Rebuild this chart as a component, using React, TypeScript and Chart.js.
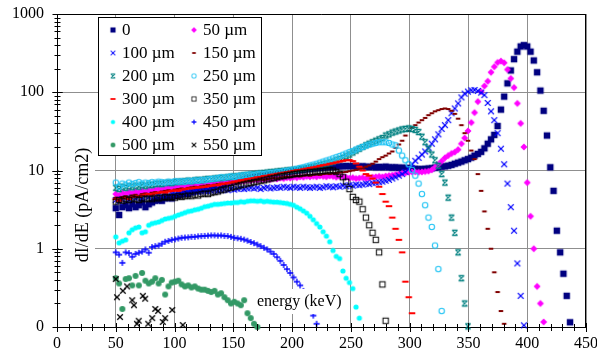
import React, { useEffect, useRef } from 'react';
import { Chart, registerables } from 'chart.js';
Chart.register(...registerables);

// Energy bins (keV) shared by the measured series
const ENERGY = [
  50, 52.8, 55.6, 58.4, 61.2, 64, 66.8, 69.6, 72.4, 75.2,
  78, 80.8, 83.6, 86.4, 89.2, 92, 94.8, 97.6, 100.4, 103.2,
  106, 108.8, 111.6, 114.4, 117.2, 120, 122.8, 125.6, 128.4, 131.2,
  134, 136.8, 139.6, 142.4, 145.2, 148, 150.8, 153.6, 156.4, 159.2,
  162, 164.8, 167.6, 170.4, 173.2, 176, 178.8, 181.6, 184.4, 187.2,
  190, 192.8, 195.6, 198.4, 201.2, 204, 206.8, 209.6, 212.4, 215.2,
  218, 220.8, 223.6, 226.4, 229.2, 232, 234.8, 237.6, 240.4, 243.2,
  246, 248.8, 251.6, 254.4, 257.2, 260, 262.8, 265.6, 268.4, 271.2,
  274, 276.8, 279.6, 282.4, 285.2, 288, 290.8, 293.6, 296.4, 299.2,
  302, 304.8, 307.6, 310.4, 313.2, 316, 318.8, 321.6, 324.4, 327.2,
  330, 332.8, 335.6, 338.4, 341.2, 344, 346.8, 349.6, 352.4, 355.2,
  358, 360.8, 363.6, 366.4, 369.2, 372, 374.8, 377.6, 380.4, 383.2,
  386, 388.8, 391.6, 394.4, 397.2, 400, 402.8, 405.6, 408.4, 411.2,
  414, 416.8, 419.6, 422.4, 425.2, 428, 430.8, 433.6, 436.4,
];

const S0 = [
  3.3, 2.7, 3.4, 3.6, 3.3, 3.7, 3.4, 3.6, 3.9, 3.4,
  3.7, 3.9, 4.1, 4.2, 4.1, 4.4, 4.5, 4.4, 4.7, 4.8,
  4.9, 5.1, 5.0, 5.3, 5.5, 5.6, 5.7, 5.8, 6.0, 6.1,
  6.2, 6.4, 6.5, 6.7, 6.9, 7.0, 7.2, 7.3, 7.5, 7.7,
  7.9, 8.0, 8.2, 8.3, 8.5, 8.6, 8.8, 8.9, 9.0, 9.2,
  9.3, 9.5, 9.6, 9.7, 9.9, 10.0, 10.1, 10.2, 10.4, 10.5,
  10.6, 10.7, 10.8, 10.9, 11.0, 11.1, 11.2, 11.2, 11.3, 11.3,
  11.4, 11.3, 11.4, 11.3, 11.2, 11.3, 11.2, 11.1, 11.2, 11.0,
  11.1, 11.0, 11.2, 11.0, 10.9, 11.0, 10.8, 10.9, 10.7, 10.8,
  10.6, 10.5, 10.4, 10.4, 10.5, 10.6, 10.7, 10.9, 11.0, 11.2,
  11.3, 11.5, 11.8, 12.2, 12.6, 13.0, 13.5, 14.0, 14.6, 15.5,
  16.3, 17.3, 19.2, 22, 25, 28.5, 37, 60, 88, 130,
  190, 265, 330, 385, 400, 385, 330, 255, 180, 105,
  58, 28, 11, 5.5, 1.7, 0.9, 0.48, 0.25, 0.115,
];

const S50 = [
  5.0, 4.8, 5.2, 5.0, 5.3, 5.1, 5.4, 5.2, 5.5, 5.3,
  5.6, 5.5, 5.7, 5.8, 5.7, 5.9, 6.0, 5.9, 6.1, 6.2,
  6.1, 6.3, 6.4, 6.3, 6.5, 6.4, 6.6, 6.7, 6.6, 6.8,
  6.9, 6.8, 7.0, 7.1, 7.0, 7.2, 7.1, 7.3, 7.4, 7.3,
  7.5, 7.4, 7.6, 7.5, 7.7, 7.6, 7.8, 7.7, 7.9, 7.8,
  8.0, 7.9, 8.1, 8.0, 8.2, 8.1, 8.3, 8.2, 8.4, 8.3,
  8.4, 8.3, 8.5, 8.4, 8.3, 8.5, 8.4, 8.2, 8.4, 8.3,
  8.2, 8.0, 8.1, 7.9, 8.0, 8.1, 7.9, 8.0, 8.2, 8.3,
  8.4, 8.3, 8.5, 8.6, 8.7, 8.9, 9.0, 9.2, 9.3, 9.5,
  9.6, 9.6, 9.5, 9.6, 9.7, 9.8, 10.2, 11.0, 12.0, 13.2,
  14.5, 15.5, 16.5, 17.2, 18.5, 22, 26, 32, 41, 55,
  76, 102, 120, 138, 180, 212, 240, 250, 238, 195,
  150, 115, 72, 40, 20, 7, 2.6, 1.0, 0.33, 0.2,
  0.116,
];

const S100 = [
  4.2, 4.0, 4.3, 4.4, 4.2, 4.5, 4.4, 4.6, 4.5, 4.7,
  4.6, 4.8, 4.7, 4.9, 4.8, 5.0, 4.9, 5.1, 5.0, 5.1,
  5.2, 5.1, 5.3, 5.2, 5.4, 5.3, 5.4, 5.5, 5.4, 5.5,
  5.6, 5.5, 5.6, 5.7, 5.6, 5.8, 5.7, 5.8, 5.9, 5.8,
  5.9, 6.0, 5.9, 6.0, 5.8, 6.0, 6.1, 5.9, 6.0, 6.1,
  6.0, 6.2, 6.1, 6.0, 6.2, 6.1, 6.0, 6.2, 6.1, 6.0,
  6.1, 6.2, 6.0, 6.1, 6.3, 6.2, 6.1, 6.3, 6.2, 6.4,
  6.3, 6.5, 6.4, 6.6, 6.5, 6.6, 6.8, 6.7, 6.9, 7.0,
  7.1, 7.2, 7.4, 7.6, 7.9, 8.2, 8.6, 9.0, 9.6, 10.5,
  12.0, 13.3, 14.5, 16.0, 17.5, 19.5, 22, 25, 29, 34,
  38, 44, 54, 62, 72, 86, 96, 102, 106, 107,
  104, 99, 92, 73, 57, 44, 30, 19, 12, 6.8,
  3.4, 1.7, 0.65, 0.25, 0.105,
];

const S150 = [
  4.5, 4.3, 4.6, 4.7, 4.5, 4.8, 4.9, 4.7, 5.0, 5.1,
  5.0, 5.2, 5.3, 5.2, 5.4, 5.5, 5.6, 5.5, 5.7, 5.8,
  5.9, 5.8, 6.0, 6.1, 6.2, 6.1, 6.3, 6.4, 6.5, 6.4,
  6.6, 6.7, 6.8, 6.7, 6.9, 7.0, 7.1, 7.0, 7.2, 7.3,
  7.4, 7.3, 7.5, 7.6, 7.7, 7.6, 7.8, 7.9, 8.0, 7.9,
  8.1, 8.2, 8.3, 8.2, 8.4, 8.5, 8.4, 8.6, 8.7, 8.6,
  8.8, 8.9, 8.8, 9.0, 9.1, 9.0, 9.2, 9.3, 9.4, 9.5,
  9.6, 9.8, 10.0, 10.2, 10.5, 10.8, 11.2, 11.6, 12.2, 13.0,
  14.0, 14.8, 15.5, 16.5, 17.5, 19.5, 21.5, 24, 28, 32,
  35, 38, 41, 44, 47, 51, 54, 57, 59, 61,
  62, 61, 58, 53, 46, 38, 30, 24, 18, 14,
  9, 5.5, 3.0, 1.8, 1.0, 0.5, 0.28, 0.16, 0.11,
];

const S200 = [
  6.0, 5.8, 6.2, 6.0, 6.3, 6.1, 6.4, 6.2, 6.5, 6.3,
  6.6, 6.5, 6.7, 6.8, 6.7, 6.9, 7.0, 6.9, 7.1, 7.2,
  7.2, 7.3, 7.4, 7.3, 7.5, 7.6, 7.5, 7.7, 7.8, 7.8,
  7.9, 8.0, 8.0, 8.1, 8.2, 8.3, 8.4, 8.4, 8.6, 8.7,
  8.8, 8.9, 9.0, 9.1, 9.2, 9.3, 9.4, 9.5, 9.6, 9.7,
  9.8, 9.9, 10.0, 10.1, 10.2, 10.3, 10.5, 10.6, 10.8, 11.0,
  11.2, 11.4, 11.7, 12.0, 12.3, 12.7, 13.0, 13.5, 14.0, 14.5,
  15.2, 16.0, 17.0, 18.0, 19.0, 20.0, 21.0, 22.0, 23.0, 24.0,
  25, 26, 28, 29, 30.5, 31.5, 32.5, 33.5, 34, 34.5,
  34, 33, 31, 27, 23, 19, 16, 13.5, 11.5, 9,
  7, 4.5, 2.5, 1.6, 0.9, 0.42, 0.2, 0.102,
];

const S250 = [
  7.0, 6.2, 6.8, 6.6, 7.0, 6.7, 6.9, 7.1, 6.8, 7.0,
  6.9, 7.1, 7.0, 7.2, 7.1, 7.0, 7.2, 7.1, 7.3, 7.2,
  7.3, 7.2, 7.4, 7.3, 7.5, 7.4, 7.6, 7.5, 7.7, 7.8,
  7.9, 8.0, 8.2, 8.1, 8.3, 8.4, 8.3, 8.5, 8.6, 8.7,
  8.8, 8.9, 8.8, 9.0, 9.1, 9.0, 9.2, 9.3, 9.4, 9.5,
  9.6, 9.8, 9.9, 10.1, 10.3, 10.5, 10.8, 11.0, 11.3, 11.6,
  11.9, 12.2, 12.6, 13.0, 13.4, 13.8, 14.3, 14.8, 15.3, 15.9,
  16.5, 17.2, 17.8, 18.6, 19.3, 20.0, 20.8, 21.4, 22.0, 22.5,
  23.0, 23.0, 23.0, 22.5, 21.5, 21.0, 18.0, 15.5, 13.5, 12.0,
  10.2, 8.6, 6.8, 5.0, 3.6, 2.5, 1.9, 1.1, 0.55, 0.16,
];

const S300 = [
  4.3, 4.1, 4.4, 4.5, 4.3, 4.6, 4.7, 4.6, 4.8, 4.9,
  5.0, 4.9, 5.1, 5.2, 5.3, 5.2, 5.4, 5.5, 5.6, 5.5,
  5.7, 5.8, 5.9, 5.9, 6.0, 6.1, 6.1, 6.2, 6.3, 6.4,
  6.5, 6.5, 6.7, 6.8, 6.9, 7.0, 7.2, 7.3, 7.5, 7.6,
  7.8, 7.9, 8.0, 8.2, 8.3, 8.5, 8.6, 8.8, 8.9, 9.1,
  9.2, 9.4, 9.5, 9.7, 9.9, 10.1, 10.2, 10.4, 10.6, 10.8,
  11.0, 11.2, 11.5, 11.7, 11.9, 12.2, 12.4, 12.7, 13.0, 13.3,
  13.5, 13.6, 13.2, 12.3, 11.2, 10.0, 9.0, 8.6, 7.9, 7.0,
  6.2, 5.0, 4.0, 3.5, 2.5, 1.8, 1.3, 0.9, 0.38, 0.24,
  0.15,
];

const S350 = [
  4.0, 4.2, 4.1, 4.3, 4.2, 4.4, 4.3, 4.2, 4.4, 4.3,
  4.4, 4.3, 4.5, 4.4, 4.5, 4.6, 4.5, 4.6, 4.5, 4.7,
  4.6, 4.7, 4.8, 4.7, 4.9, 4.8, 5.0, 5.1, 5.0, 5.2,
  5.3, 5.4, 5.6, 5.7, 5.9, 6.0, 6.2, 6.3, 6.5, 6.6,
  6.8, 6.9, 7.1, 7.2, 7.4, 7.5, 7.7, 7.9, 8.0, 8.2,
  8.4, 8.5, 8.7, 8.8, 9.0, 9.1, 9.2, 9.3, 9.4, 9.5,
  9.6, 9.7, 9.8, 9.9, 10.0, 10.1, 10.0, 9.6, 9.0, 8.2,
  7.2, 5.8, 4.6, 4.2, 4.0, 3.2, 2.5, 2.0, 1.6, 1.3,
  0.9, 0.35, 0.12,
];

const S400 = [
  1.42, 1.19, 1.25, 1.3, 1.6, 1.75, 1.85, 1.9, 1.6, 1.65,
  2.0, 2.1, 2.15, 2.2, 2.3, 2.4, 2.45, 2.5, 2.6, 2.7,
  2.8, 2.9, 3.0, 3.05, 3.15, 3.2, 3.3, 3.45, 3.5, 3.6,
  3.7, 3.7, 3.75, 3.8, 3.85, 3.85, 3.9, 3.9, 4.0, 3.95,
  4.05, 4.1, 4.1, 4.05, 4.1, 4.0, 4.05, 4.0, 3.95, 3.95,
  3.9, 3.85, 3.8, 3.7, 3.6, 3.4, 3.25, 3.05, 2.85, 2.6,
  2.35, 2.1, 1.9, 1.65, 1.45, 1.23, 0.95, 0.8, 0.75, 0.52,
  0.42, 0.37, 0.31, 0.18, 0.13,
];

const S450 = [
  0.9, 0.84, 0.66, 0.9, 0.88, 0.79, 0.86, 0.89, 0.92, 0.98,
  0.89, 1.05, 1.08, 1.1, 1.16, 1.23, 1.26, 1.3, 1.32, 1.35,
  1.38, 1.39, 1.4, 1.42, 1.42, 1.44, 1.45, 1.46, 1.47, 1.48,
  1.48, 1.47, 1.48, 1.46, 1.45, 1.42, 1.38, 1.36, 1.34, 1.31,
  1.27, 1.22, 1.18, 1.13, 1.08, 1.03, 0.98, 0.92, 0.86, 0.78,
  0.7, 0.62, 0.55, 0.49, 0.43, 0.38, 0.34, 0.29, 0.24, 0.19,
  0.14, 0.11,
];

const S500 = [
  0.42, 0.36, 0.17, 0.41, 0.42, 0.34, 0.45, 0.34, 0.49, 0.39,
  0.36, 0.38, 0.42, 0.36, 0.40, 0.26, 0.33, 0.37, 0.38, 0.39,
  0.35, 0.33, 0.34, 0.32, 0.33, 0.31, 0.30, 0.30, 0.29, 0.28,
  0.29, 0.26, 0.27, 0.24, 0.22, 0.20, 0.21, 0.20, 0.19, 0.22,
  0.15, 0.13, 0.11, 0.10,
];

// 550 µm: sparse points with their own energies
const E550 = [50, 51, 53.6, 56, 59.6, 64, 65.5, 68, 69.5, 73, 75, 77.6, 81, 83.6, 86, 90, 92, 98, 107];
const S550 = [0.41, 0.24, 0.134, 0.29, 0.33, 0.22, 0.19, 0.11, 0.12, 0.25, 0.23, 0.11, 0.13, 0.17, 0.16, 0.116, 0.13, 0.165, 0.106];

const LABELS = ['0', '50 µm', '100 µm', '150 µm', '200 µm', '250 µm', '300 µm', '350 µm', '400 µm', '450 µm', '500 µm', '550 µm'];
const VALUES = [S0, S50, S100, S150, S200, S250, S300, S350, S400, S450, S500, S550];

const X_TICKS = [0, 50, 100, 150, 200, 250, 300, 350, 400, 450];
const Y_TICKS = [0.1, 1, 10, 100, 1000];

type Kind = 'square' | 'diamond' | 'x' | 'dash' | 'hourglass' | 'ocircle' | 'osquare' | 'circle' | 'plus';
interface Style { kind: Kind; color: string; size: number; }

const STYLES: Style[] = [
  { kind: 'square', color: '#000080', size: 6.5 },
  { kind: 'diamond', color: '#FF00FF', size: 3.5 },
  { kind: 'x', color: '#0000FF', size: 2.9 },
  { kind: 'dash', color: '#800000', size: 4.5 },
  { kind: 'hourglass', color: '#008080', size: 2.7 },
  { kind: 'ocircle', color: '#22C4F4', size: 2.7 },
  { kind: 'dash', color: '#FF0000', size: 6.5 },
  { kind: 'osquare', color: '#000000', size: 2.7 },
  { kind: 'circle', color: '#00FFFF', size: 2.6 },
  { kind: 'plus', color: '#0000FF', size: 3.1 },
  { kind: 'circle', color: '#339966', size: 3.0 },
  { kind: 'x', color: '#000000', size: 2.8 },
];

const FONT = '"Liberation Serif", "Times New Roman", serif';

function makeMarker(st: Style): HTMLCanvasElement {
  const c = document.createElement('canvas');
  c.width = 10; c.height = 10;
  const g = c.getContext('2d')!;
  const m = 5; const s = st.size;
  g.fillStyle = st.color; g.strokeStyle = st.color;
  switch (st.kind) {
    case 'square': g.fillRect(m - s / 2, m - s / 2, s, s); break;
    case 'diamond':
      g.beginPath(); g.moveTo(m, m - s); g.lineTo(m + s, m); g.lineTo(m, m + s); g.lineTo(m - s, m); g.closePath(); g.fill(); break;
    case 'x':
      g.lineWidth = 1.3; g.beginPath();
      g.moveTo(m - s, m - s); g.lineTo(m + s, m + s); g.moveTo(m + s, m - s); g.lineTo(m - s, m + s); g.stroke(); break;
    case 'dash': g.fillRect(m - s / 2, m - 1, s, 2); break;
    case 'hourglass':
      g.lineWidth = 1.2; g.beginPath();
      g.moveTo(m - s, m - s); g.lineTo(m + s, m + s); g.moveTo(m + s, m - s); g.lineTo(m - s, m + s);
      g.moveTo(m - s, m - s); g.lineTo(m + s, m - s); g.moveTo(m - s, m + s); g.lineTo(m + s, m + s); g.stroke(); break;
    case 'ocircle':
      g.lineWidth = 1.1; g.beginPath(); g.arc(m, m, s, 0, Math.PI * 2); g.stroke(); break;
    case 'osquare':
      g.lineWidth = 1; g.strokeRect(m - s, m - s, 2 * s, 2 * s); break;
    case 'circle':
      g.beginPath(); g.arc(m, m, s, 0, Math.PI * 2); g.fill(); break;
    case 'plus':
      g.lineWidth = 1.3; g.beginPath();
      g.moveTo(m - s, m); g.lineTo(m + s, m); g.moveTo(m, m - s); g.lineTo(m, m + s); g.stroke(); break;
  }
  return c;
}

function makeOverlay(markers: HTMLCanvasElement[]) {
  return {
    id: 'overlay',
    afterDatasetsDraw(chart: any) {
      const { ctx, chartArea: a, scales } = chart;
      const xs = scales.x, ys = scales.y;
      ctx.save();
      // white box behind the y title
      ctx.fillStyle = '#fff';
      ctx.fillRect(a.left + 2, 142, 36, 126);
      // white box behind the x title
      ctx.fillRect(253, 289, 94, 25);
      // frame top/right
      ctx.strokeStyle = '#000'; ctx.lineWidth = 1;
      ctx.beginPath();
      ctx.moveTo(a.left, Math.round(a.top) + 0.5); ctx.lineTo(a.right, Math.round(a.top) + 0.5);
      ctx.moveTo(Math.round(a.right) - 0.5, a.top); ctx.lineTo(Math.round(a.right) - 0.5, a.bottom);
      ctx.stroke();
      // axis ticks (crossing)
      ctx.beginPath();
      const yb = Math.round(a.bottom) + 0.5;
      for (let v = 0; v <= 450; v += 10) {
        const px = Math.round(xs.getPixelForValue(v)) + 0.5;
        const len = v % 50 === 0 ? 4.5 : 3.5;
        ctx.moveTo(px, yb - len); ctx.lineTo(px, yb + len);
      }
      const xl = Math.round(a.left) + 0.5;
      for (let d = 0.1; d < 1000; d *= 10) {
        for (let k = 1; k <= 10; k++) {
          const v = d * k;
          if (v > 1000.0001) continue;
          const py = Math.round(ys.getPixelForValue(v)) + 0.5;
          const len = k === 1 || k === 10 ? 5 : 3;
          ctx.moveTo(xl - len, py); ctx.lineTo(xl + len, py);
        }
      }
      ctx.stroke();
      // titles
      ctx.fillStyle = '#000';
      ctx.font = `18px ${FONT}`;
      ctx.save();
      ctx.translate(83, 205);
      ctx.rotate(-Math.PI / 2);
      ctx.textAlign = 'center'; ctx.textBaseline = 'middle';
      ctx.fillText('dI/dE (pA/cm2)', 0, 0);
      ctx.restore();
      ctx.font = `16px ${FONT}`;
      ctx.textAlign = 'left'; ctx.textBaseline = 'middle';
      ctx.fillText('energy (keV)', 257, 302);
      // legend
      ctx.fillStyle = '#fff';
      ctx.fillRect(98, 17, 163, 138);
      ctx.strokeStyle = '#000';
      ctx.strokeRect(98.5, 17.5, 163, 138);
      ctx.font = `17px ${FONT}`;
      ctx.fillStyle = '#000';
      LABELS.forEach((lab, i) => {
        const col = i % 2, row = Math.floor(i / 2);
        const cy = 30 + row * 23;
        const mx = col === 0 ? 113 : 194;
        const tx = col === 0 ? 122 : 203;
        const mk = markers[i];
        ctx.save();
        ctx.translate(mx, cy);
        ctx.scale(0.8, 0.8);
        ctx.drawImage(mk, -5, -5);
        ctx.restore();
        ctx.fillText(lab, tx, cy + 1);
      });
      ctx.restore();
    },
  };
}

export default function App() {
  const ref = useRef<HTMLCanvasElement>(null);
  useEffect(() => {
    document.body.style.margin = '0';
    const markers = STYLES.map(makeMarker);
    const datasets = VALUES.map((vals, i) => ({
      label: LABELS[i],
      data: vals.map((v, j) => ({ x: i === 11 ? E550[j] : ENERGY[j], y: v })),
      pointStyle: markers[i],
      pointRadius: 4,
      pointHoverRadius: 4,
      showLine: false,
      order: -i,
      clip: false as any,
    }));
    const chart = new Chart(ref.current!, {
      type: 'scatter',
      data: { datasets },
      options: {
        animation: false,
        responsive: false,
        events: [],
        layout: { padding: { left: 0, right: 11, top: 14, bottom: 0 } },
        plugins: { legend: { display: false }, tooltip: { enabled: false } },
        scales: {
          x: {
            type: 'linear', min: 0, max: 450,
            afterBuildTicks: (s: any) => { s.ticks = X_TICKS.map((v) => ({ value: v })); },
            ticks: { font: { family: FONT, size: 16 }, color: '#000', padding: 7, maxRotation: 0, autoSkip: false },
            grid: { color: '#8f8f8f', lineWidth: 1, drawTicks: false },
            border: { color: '#000', width: 1 },
            afterFit: (s: any) => { s.height = 36; s.paddingLeft = 0; s.paddingRight = 0; },
          },
          y: {
            type: 'logarithmic', min: 0.1, max: 1000,
            afterBuildTicks: (s: any) => { s.ticks = Y_TICKS.map((v) => ({ value: v })); },
            ticks: {
              font: { family: FONT, size: 16 }, color: '#000', padding: 13, autoSkip: false,
              callback: (v: any) => (Number(v) < 1 ? '0' : String(v)),
            },
            grid: { color: '#8f8f8f', lineWidth: 1, drawTicks: false },
            border: { color: '#000', width: 1 },
            afterFit: (s: any) => { s.width = 57; s.paddingTop = 0; s.paddingBottom = 0; },
          },
        },
      },
      plugins: [makeOverlay(markers)],
    } as any);
    return () => chart.destroy();
  }, []);
  return (
    <div style={{ position: 'fixed', left: 0, top: 0, width: 597, height: 363, background: '#fff' }}>
      <canvas ref={ref} width={597} height={363} />
    </div>
  );
}
